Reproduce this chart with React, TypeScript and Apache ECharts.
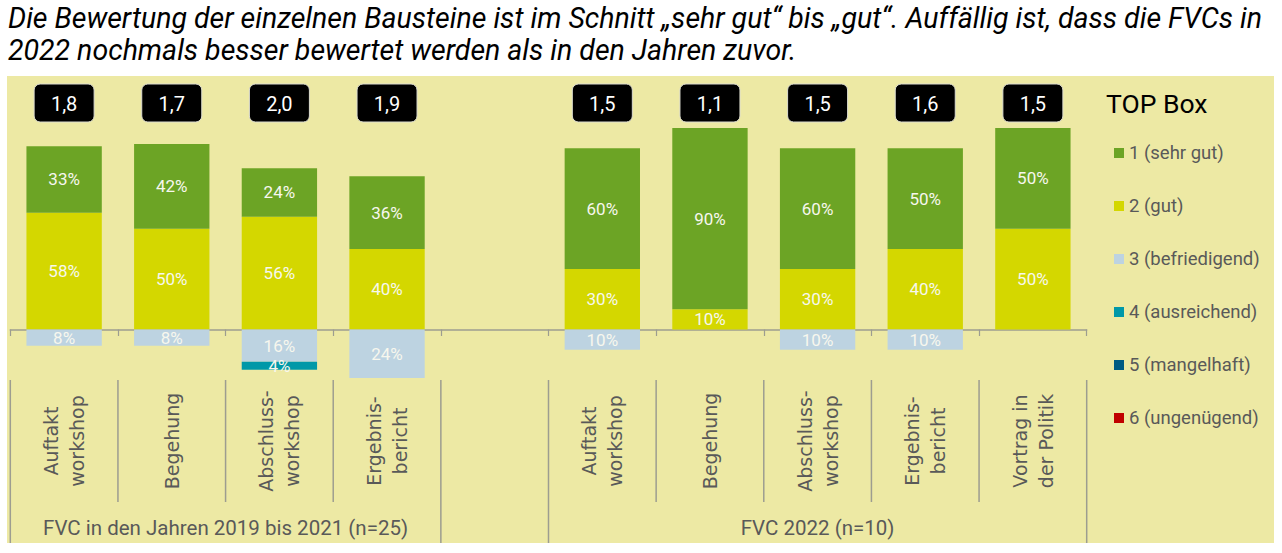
import { useEffect, useRef } from "react";
import * as echarts from "echarts";

// Bausteine (an empty slot separates the two survey groups)
const categories = [
  "Auftakt\nworkshop",
  "Begehung",
  "Abschluss-\nworkshop",
  "Ergebnis-\nbericht",
  "",
  "Auftakt\nworkshop",
  "Begehung",
  "Abschluss-\nworkshop",
  "Ergebnis-\nbericht",
  "Vortrag in\nder Politik",
];

// Shares per grade in percent
const sehrGut = [33, 42, 24, 36, null, 60, 90, 60, 50, 50];
const gut = [58, 50, 56, 40, null, 30, 10, 30, 40, 50];
const befriedigend = [8, 8, 16, 24, null, 10, 0, 10, 10, 0];
const ausreichend = [0, 0, 4, 0, null, 0, 0, 0, 0, 0];
const mangelhaft = [0, 0, 0, 0, null, 0, 0, 0, 0, 0];
const ungenuegend = [0, 0, 0, 0, null, 0, 0, 0, 0, 0];

// Average grade per Baustein
const scores = [1.8, 1.7, 2.0, 1.9, null, 1.5, 1.1, 1.5, 1.6, 1.5];

const groups = [
  { label: "FVC in den Jahren 2019 bis 2021 (n=25)", first: 0, last: 3 },
  { label: "FVC 2022 (n=10)", first: 5, last: 9 },
];

const gradeNames = [
  "1 (sehr gut)",
  "2 (gut)",
  "3 (befriedigend)",
  "4 (ausreichend)",
  "5 (mangelhaft)",
  "6 (ungenügend)",
];
const gradeColors = ["#6CA425", "#D4D700", "#BDD3E1", "#0098A8", "#005B82", "#C00000"];

const headline =
  "Die Bewertung der einzelnen Bausteine ist im Schnitt „sehr gut“ bis „gut“. Auffällig ist, dass die FVCs in\n2022 nochmals besser bewertet werden als in den Jahren zuvor.";

const GRAY = "#595959";
const LINE = "#9d9d90";
const FONT = "Roboto";

const neg = (arr: (number | null)[]) => arr.map((v) => (v == null ? null : -v));

const pctLabel = {
  show: true,
  position: "inside" as const,
  color: "#F7F7EE",
  fontSize: 17,
  fontFamily: FONT,
  formatter: (p: any) => (p.value ? Math.abs(p.value) + "%" : ""),
};

function barSeries(name: string, color: string, data: (number | null)[]) {
  return {
    type: "bar",
    name,
    stack: "grades",
    barWidth: "70%",
    data,
    itemStyle: { color },
    label: pctLabel,
  };
}

export default function App() {
  const ref = useRef<HTMLDivElement>(null);

  useEffect(() => {
    if (!ref.current) return;
    const chart = echarts.init(ref.current, null, { renderer: "svg" });
    const n = categories.length;
    const groupEdges = new Set<number>();
    groups.forEach((g) => {
      groupEdges.add(g.first);
      groupEdges.add(g.last + 1);
    });
    const boundaries = Array.from({ length: n + 1 }, (_, b) => [b, groupEdges.has(b) ? 1 : 0]);

    chart.setOption({
      animation: false,
      backgroundColor: "#ffffff",
      title: [
        {
          text: headline,
          left: 8,
          top: 2,
          padding: 0,
          textStyle: {
            fontFamily: FONT,
            fontStyle: "italic",
            fontWeight: "normal",
            fontSize: 28.5,
            lineHeight: 32,
            color: "#000",
          },
        },
        {
          text: "TOP Box",
          left: 1106,
          top: 88,
          padding: 0,
          textStyle: {
            fontFamily: FONT,
            fontWeight: "normal",
            fontSize: 26.5,
            lineHeight: 30,
            color: "#000",
          },
        },
      ],
      graphic: [
        {
          type: "rect",
          left: 7,
          top: 76,
          z: -10,
          silent: true,
          shape: { width: 1267, height: 467 },
          style: { fill: "#EDE9A4" },
        },
      ],
      legend: {
        data: gradeNames,
        orient: "vertical",
        left: 1114,
        top: 143,
        padding: 0,
        itemWidth: 10,
        itemHeight: 10,
        itemGap: 33,
        icon: "rect",
        selectedMode: false,
        textStyle: { color: GRAY, fontSize: 18.5, fontFamily: FONT, lineHeight: 20 },
      },
      grid: { left: 10.3, right: 195.3, top: 128, bottom: 173.1, containLabel: false },
      xAxis: {
        type: "category",
        data: categories,
        axisLine: { show: true, lineStyle: { color: LINE, width: 1.5 } },
        axisTick: { show: true, length: 6.5, interval: 0, lineStyle: { color: LINE, width: 1.2 } },
        axisLabel: { show: false },
        splitLine: { show: false },
      },
      yAxis: {
        type: "value",
        min: -25,
        max: 100,
        show: false,
        splitLine: { show: false },
      },
      series: [
        barSeries(gradeNames[1], gradeColors[1], gut),
        barSeries(gradeNames[0], gradeColors[0], sehrGut),
        barSeries(gradeNames[2], gradeColors[2], neg(befriedigend)),
        barSeries(gradeNames[3], gradeColors[3], neg(ausreichend)),
        barSeries(gradeNames[4], gradeColors[4], neg(mangelhaft)),
        barSeries(gradeNames[5], gradeColors[5], neg(ungenuegend)),
        {
          // average grade badges above the bars
          type: "custom",
          name: "Durchschnitt",
          clip: false,
          silent: true,
          z: 5,
          data: scores
            .map((s, i) => (s == null ? null : [i, s]))
            .filter((d) => d !== null),
          renderItem: (_params: any, api: any) => {
            const x = api.coord([api.value(0), 0])[0];
            const txt = Number(api.value(1)).toFixed(1).replace(".", ",");
            return {
              type: "group",
              children: [
                {
                  type: "rect",
                  shape: { x: x - 30, y: 84, width: 60, height: 38, r: 6 },
                  style: { fill: "#000000", stroke: "#dcdcd0", lineWidth: 1 },
                },
                {
                  type: "text",
                  x,
                  y: 104,
                  style: {
                    text: txt,
                    fill: "#ffffff",
                    fontSize: 20,
                    fontFamily: FONT,
                    align: "center",
                    verticalAlign: "middle",
                  },
                },
              ],
            };
          },
        },
        {
          // rotated category names, centred in the label band under the axis
          type: "custom",
          name: "Bausteine",
          clip: false,
          silent: true,
          data: categories.map((_c, i) => [i, 0]),
          renderItem: (params: any, api: any) => {
            const x = api.coord([api.value(0), 0])[0];
            return {
              type: "text",
              x,
              y: 441,
              rotation: Math.PI / 2,
              style: {
                text: categories[params.dataIndex],
                fill: GRAY,
                fontSize: 19,
                fontFamily: "DejaVu Sans",
                lineHeight: 26,
                align: "center",
                verticalAlign: "middle",
              },
            };
          },
        },
        {
          // category separators under the axis
          type: "custom",
          name: "Trenner",
          clip: false,
          silent: true,
          data: boundaries,
          renderItem: (_params: any, api: any) => {
            const b = api.value(0);
            const band = api.size([1, 0])[0];
            const x =
              b < n ? api.coord([b, 0])[0] - band / 2 : api.coord([n - 1, 0])[0] + band / 2;
            const long = api.value(1) === 1;
            return {
              type: "line",
              shape: { x1: x, y1: 380, x2: x, y2: long ? 543 : 502 },
              style: { stroke: LINE, lineWidth: 1.5 },
            };
          },
        },
        {
          // group captions
          type: "custom",
          name: "Gruppen",
          clip: false,
          silent: true,
          data: groups.map((g) => [g.first, g.last]),
          renderItem: (params: any, api: any) => {
            const x = (api.coord([api.value(0), 0])[0] + api.coord([api.value(1), 0])[0]) / 2;
            return {
              type: "text",
              x,
              y: 528,
              style: {
                text: groups[params.dataIndex].label,
                fill: GRAY,
                fontSize: 20.5,
                fontFamily: FONT,
                align: "center",
                verticalAlign: "middle",
              },
            };
          },
        },
      ],
    });

    return () => chart.dispose();
  }, []);

  return (
    <div
      ref={ref}
      style={{ position: "fixed", left: 0, top: 0, width: 1282, height: 553 }}
    />
  );
}
